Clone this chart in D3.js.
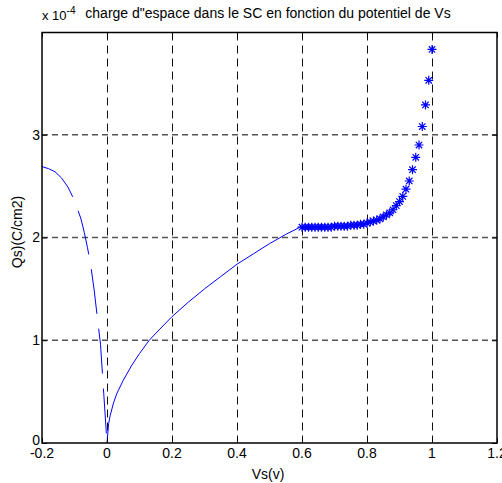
<!DOCTYPE html>
<html><head><meta charset="utf-8">
<script src="https://cdn.jsdelivr.net/npm/d3@7"></script>
<style>body{margin:0;background:#fff;} text{font-family:"Liberation Sans",Arial,sans-serif;}</style>
</head><body>
<svg id="c" width="502" height="483"></svg>
<script>
// Values of Qs are in units of 1e-4 C/cm2 (axis multiplier "x 10^-4")
const vsNeg = [-0.2, -0.18, -0.16, -0.14, -0.12, -0.10, -0.08, -0.07, -0.06, -0.05, -0.04, -0.03, -0.02, -0.01, 0];
const qsNeg = [2.69, 2.67, 2.64, 2.58, 2.49, 2.36, 2.18, 2.05, 1.90, 1.73, 1.50, 1.23, 0.96, 0.48, 0];
const vsPos = [0, 0.005, 0.01, 0.02, 0.03, 0.05, 0.075, 0.1, 0.13, 0.16, 0.2, 0.25, 0.3, 0.35, 0.4, 0.45, 0.5, 0.55, 0.6];
const qsPos = [0, 0.19, 0.27, 0.39, 0.48, 0.61, 0.75, 0.87, 1.00, 1.10, 1.23, 1.37, 1.50, 1.62, 1.74, 1.84, 1.94, 2.03, 2.11];
const vsStar = [0.60,0.61,0.62,0.63,0.64,0.65,0.66,0.67,0.68,0.69,0.70,0.71,0.72,0.73,0.74,0.75,0.76,0.77,0.78,0.79,0.80,
                0.81,0.82,0.83,0.84,0.85,0.86,0.87,0.88,0.89,0.90,0.91,0.92,0.93,0.94,0.95,0.96,0.97,0.98,0.99,1.00];
const qsStar = [2.10,2.10,2.10,2.10,2.10,2.10,2.10,2.10,2.10,2.10,2.11,2.11,2.11,2.11,2.11,2.12,2.12,2.12,2.13,2.13,2.14,
                2.15,2.16,2.17,2.18,2.20,2.22,2.24,2.27,2.31,2.35,2.40,2.47,2.55,2.66,2.78,2.90,3.08,3.29,3.53,3.83];
const xTicks = [-0.2, 0, 0.2, 0.4, 0.6, 0.8, 1, 1.2];
const xTickLabels = ["-0.2", "0", "0.2", "0.4", "0.6", "0.8", "1", "1.2"];
const yTicks = [0, 1, 2, 3];
const yTickLabels = ["0", "1", "2", "3"];
const titleText = "charge d\"espace dans le SC en fonction du potentiel de Vs";
const xLabelText = "Vs(v)";
const yLabelText = "Qs)(C/cm2)";

const L = 42, R = 497, T = 32.5, B = 443;
const svg = d3.select("#c");
const x = d3.scaleLinear().domain([-0.2, 1.2]).range([L, R]);
const y = d3.scaleLinear().domain([0, 3.995]).range([B, T]);

// grid
const g = svg.append("g");
g.selectAll("line.vg").data(xTicks.slice(1, -1)).enter().append("line")
  .attr("x1", d => Math.round(x(d)) + 0.5).attr("x2", d => Math.round(x(d)) + 0.5)
  .attr("y1", T).attr("y2", B)
  .attr("stroke", "#111").attr("stroke-width", 1).attr("stroke-dasharray", "8,5");
g.selectAll("line.hg").data(yTicks.slice(1)).enter().append("line")
  .attr("x1", L).attr("x2", R)
  .attr("y1", d => y(d)).attr("y2", d => y(d))
  .attr("stroke", "#555").attr("stroke-width", 1.4).attr("stroke-dasharray", "6,4");

// clip
svg.append("clipPath").attr("id", "clip").append("rect").attr("x", L).attr("y", T).attr("width", R - L).attr("height", B - T);
const plot = svg.append("g").attr("clip-path", "url(#clip)");

const line = d3.line().x(d => x(d[0])).y(d => y(d[1]));
plot.append("path").datum(vsNeg.map((v, i) => [v, qsNeg[i]]))
  .attr("d", line).attr("fill", "none").attr("stroke", "#0000ff").attr("stroke-width", 1)
  .attr("stroke-dasharray", "45,15");
plot.append("path").datum(vsPos.map((v, i) => [v, qsPos[i]]))
  .attr("d", line).attr("fill", "none").attr("stroke", "#0000ff").attr("stroke-width", 1);

const star = "M-4.5,0L4.5,0M0,-4.5L0,4.5M-3.2,-3.2L3.2,3.2M-3.2,3.2L3.2,-3.2";
plot.selectAll("path.star").data(vsStar.map((v, i) => [v, qsStar[i]])).enter().append("path")
  .attr("transform", d => `translate(${x(d[0])},${y(d[1])})`)
  .attr("d", star).attr("fill", "none").attr("stroke", "#0000ff").attr("stroke-width", 1.2);

// axes box
svg.append("rect").attr("x", L).attr("y", T).attr("width", R - L).attr("height", B - T)
  .attr("fill", "none").attr("stroke", "#000").attr("stroke-width", 1.5);

// ticks (inward, all four sides) via d3 axes
const tk = 5;
svg.append("g").attr("transform", `translate(0,${B})`)
  .call(d3.axisTop(x).tickValues(xTicks).tickSize(tk).tickFormat(""))
  .call(s => s.select(".domain").remove());
svg.append("g").attr("transform", `translate(0,${T})`)
  .call(d3.axisBottom(x).tickValues(xTicks).tickSize(tk).tickFormat(""))
  .call(s => s.select(".domain").remove());
svg.append("g").attr("transform", `translate(${L},0)`)
  .call(d3.axisRight(y).tickValues(yTicks).tickSize(tk).tickFormat(""))
  .call(s => s.select(".domain").remove());
svg.append("g").attr("transform", `translate(${R},0)`)
  .call(d3.axisLeft(y).tickValues(yTicks).tickSize(tk).tickFormat(""))
  .call(s => s.select(".domain").remove());

// tick labels
svg.selectAll("text.xt").data(xTicks).enter().append("text")
  .attr("x", d => x(d)).attr("y", 458).attr("text-anchor", "middle")
  .attr("font-size", 14).text((d, i) => xTickLabels[i]);
svg.selectAll("text.yt").data(yTicks).enter().append("text")
  .attr("x", 40).attr("y", d => Math.min(y(d) + 5, 445)).attr("text-anchor", "end")
  .attr("font-size", 14).text((d, i) => yTickLabels[i]);

// multiplier
const m = svg.append("text").attr("x", 42).attr("y", 20).attr("font-size", 13);
m.append("tspan").text("x 10");
m.append("tspan").attr("dy", -6).attr("font-size", 10).text("-4");

// title & labels
svg.append("text").attr("x", 268).attr("y", 18).attr("text-anchor", "middle").attr("font-size", 14).text(titleText);
svg.append("text").attr("x", 268).attr("y", 479).attr("text-anchor", "middle").attr("font-size", 14).text(xLabelText);
svg.append("text").attr("transform", "translate(22,232) rotate(-90)").attr("text-anchor", "middle").attr("font-size", 14).text(yLabelText);
</script>
</body></html>
